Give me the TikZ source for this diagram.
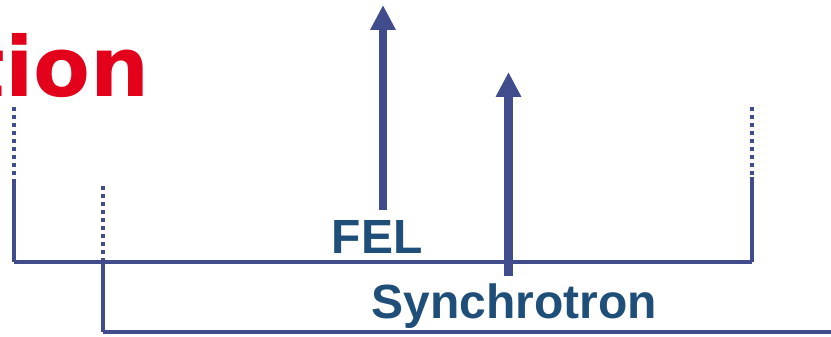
\documentclass[tikz,border=0pt]{standalone}
\usepackage{fontspec}
\setmainfont{Liberation Sans}
\newfontfamily\headingfont{DejaVu Sans}
\usetikzlibrary{arrows.meta}
\definecolor{linenavy}{RGB}{64,76,140}
\definecolor{labelblue}{RGB}{31,78,121}
\definecolor{titlered}{RGB}{226,0,26}
\begin{document}
\begin{tikzpicture}[x=1pt,y=-1pt,
  solidleg/.style={draw=linenavy,line width=4pt},
  dottedleg/.style={draw=linenavy,line width=3.6pt,dash pattern=on 3.6pt off 4.4pt},
  baseline/.style={draw=linenavy,line width=3.6pt},
  photonarrow/.style={draw=linenavy,fill=linenavy,line width=8.5pt,
    -{Triangle[width=24pt 0,length=25pt 0]}},
  tag/.style={font=\bfseries\fontsize{48}{48}\selectfont,text=labelblue,inner sep=0pt,anchor=base}]
\useasboundingbox (0,0) rectangle (831,337);

% partial heading
\node[font=\headingfont\bfseries\fontsize{83}{83}\selectfont,text=titlered,inner sep=0pt,anchor=base east] (title) at (150,97) {tion};

% FEL bracket
\coordinate (felTL) at (14,107);
\coordinate (felML) at (14,182);
\coordinate (felBL) at (14,262);
\coordinate (felTR) at (752,107);
\coordinate (felMR) at (752,177);
\coordinate (felBR) at (752,262);
\draw[dottedleg] (felTL) -- (felML);
\draw[solidleg] (felML) -- (felBL);
\draw[dottedleg] (felTR) -- (felMR);
\draw[solidleg] (felMR) -- (felBR);
\draw[baseline] (felBL) -- (felBR);

% synchrotron bracket
\coordinate (synT) at (103,186);
\coordinate (synM) at (103,260);
\coordinate (synB) at (103,332);
\coordinate (synR) at (831,332);
\draw[dottedleg] (synT) -- (synM);
\draw[solidleg] (synM) -- (synB);
\draw[baseline] (synB) -- (synR);

% peak brightness arrows
\coordinate (felFoot) at (383,210);
\coordinate (felTip) at (383,5);
\coordinate (synFoot) at (508.5,276);
\coordinate (synTip) at (508.5,72);
\draw[photonarrow] (felFoot) -- (felTip);
\draw[photonarrow] (synFoot) -- (synTip);

% labels
\node[tag] (fel) at (377,253) {FEL};
\node[tag] (syn) at (514.5,318) {Synchrotron};
\end{tikzpicture}
\end{document}
